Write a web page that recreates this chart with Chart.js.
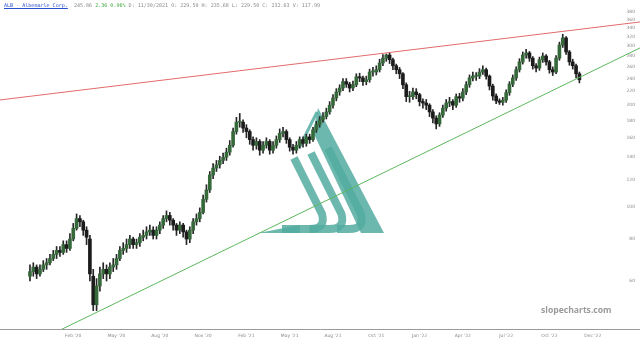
<!DOCTYPE html>
<html>
<head>
<meta charset="utf-8">
<script src="https://cdn.jsdelivr.net/npm/chart.js@4.4.0/dist/chart.umd.min.js"></script>
<style>
  html, body { margin: 0; padding: 0; background: #fff; }
  #wrap { position: relative; width: 640px; height: 343px; }
  #header { position: absolute; left: 4px; top: 2px; font: 5.05px "DejaVu Sans Mono", monospace; color: #8a8a8a; white-space: pre; }
  #header .sym { color: #2a4fd0; text-decoration: underline; }
  #header .chg { color: #3aa53a; }
  #brand { position: absolute; left: 541px; top: 304px; font: bold 8.6px "Open Sans", sans-serif; color: #9a9a9a; }
</style>
</head>
<body>
<div id="wrap">
  <canvas id="albChart" width="640" height="343"></canvas>
  <div id="header"><span class="sym">ALB - Albemarle Corp.</span>  245.86 <span class="chg">2.36 0.96%</span> D: 11/30/2021 O: 229.50 H: 235.68 L: 229.50 C: 232.63 V: 117.99</div>
  <div id="brand">slopecharts.com</div>
</div>
<script>
// weekly bars, week 0 = first bar on the chart
const tickWeeks = [13, 26, 39, 52, 65, 78, 91, 104, 117, 130, 143, 156, 169];
const tickLabels = ["Feb '20", "May '20", "Aug '20", "Nov '20", "Feb '21", "May '21", "Aug '21",
                    "Oct '21", "Jan '22", "Apr '22", "Jul '22", "Oct '22", "Dec '22"];
const priceTicks = [60, 80, 100, 120, 140, 160, 180, 200, 220, 240, 260, 280, 300, 320, 340, 360, 380];

const opens = [62,64,66,63,65,67,68,70,72,74,73,77,75,80,86,92,90,85,80,62,51,58,63,65,63,66,67,70,74,75,
  77,80,77,78,81,82,84,85,82,85,88,92,94,91,88,85,88,84,80,85,90,92,96,105,112,124,130,133,137,140,
  145,152,167,178,178,171,167,158,152,156,147,152,156,147,152,158,165,167,158,150,147,152,158,154,161,158,169,175,181,185,
  191,200,210,219,225,235,231,225,230,243,241,235,238,251,251,255,267,276,282,273,262,255,248,230,212,212,219,215,205,203,
  200,191,183,176,187,196,203,205,200,212,210,219,230,241,244,244,251,255,244,228,213,206,204,207,218,231,241,255,269,282,
  286,276,262,258,273,280,269,255,251,276,302,317,288,269,262,248];
const highs = [67,68,67,67,69,70,72,74,76,76,79,79,83,89,95,94,91,87,82,65,61,66,68,67,68,70,72,76,78,80,
  82,81,80,83,85,87,88,87,87,90,94,97,96,92,89,90,89,85,87,92,95,99,108,116,127,134,137,141,144,149,
  157,171,184,189,181,175,169,161,160,158,156,160,158,156,162,170,172,169,160,153,156,161,161,164,164,172,179,185,190,196,
  205,215,224,230,240,240,234,236,248,249,244,244,256,259,262,274,283,284,286,276,265,259,250,233,220,225,224,217,209,208,
  202,194,186,190,200,208,211,208,216,217,224,235,246,251,250,257,262,258,246,231,216,209,211,222,235,246,260,275,288,293,
  289,279,266,278,286,283,272,260,281,308,325,320,291,274,265,251];
const lows = [60,62,61,62,64,65,67,69,70,71,72,73,74,79,85,87,82,77,60,49,49,56,61,60,61,64,65,69,72,73,
  75,75,75,76,79,80,82,80,80,83,86,90,88,85,82,83,81,77,78,83,88,90,95,103,110,121,127,130,134,137,
  142,150,164,172,166,160,153,147,148,142,144,149,143,144,149,155,161,154,146,143,144,149,150,151,154,156,166,172,178,182,
  188,196,206,214,221,226,219,221,227,235,229,230,234,244,246,251,262,270,266,255,248,240,224,205,204,208,209,199,196,194,
  185,177,170,173,184,192,198,194,197,204,206,215,226,236,237,240,247,239,222,207,202,201,200,204,214,227,237,251,265,276,
  270,256,251,254,268,263,249,245,248,272,297,283,263,256,241,233];
const closes = [64,66,63,65,67,68,70,72,74,73,77,75,80,86,92,90,85,81,63,51,58,63,65,63,66,67,70,74,75,77,
  80,77,78,81,82,84,85,82,85,88,92,94,91,88,85,88,84,80,85,90,92,96,105,112,124,130,133,137,140,145,
  152,167,178,178,171,167,158,152,156,147,152,156,147,152,158,165,167,158,150,147,152,158,154,161,158,169,175,181,185,191,
  200,210,219,225,235,231,225,230,243,241,235,238,251,251,255,267,276,282,273,262,255,248,230,212,212,219,215,205,203,200,
  191,183,176,187,196,203,205,200,212,210,219,230,241,244,244,251,255,244,228,213,206,204,207,218,231,241,255,269,282,286,
  276,262,258,273,280,269,255,251,276,302,317,288,269,262,248,238];

// trend lines, endpoints read at the left and right edges of the plot
const resistanceLine = [{ x: -9, y: 207.3 }, { x: 183.2, y: 353.6 }];
const supportLine = [{ x: -9, y: 35.1 }, { x: 183.2, y: 296 }];

const watermark = {
  id: "watermark",
  beforeDatasetsDraw(chart) {
    const c = chart.ctx;
    c.save();
    c.fillStyle = "rgba(84,172,160,0.85)";
    c.strokeStyle = "rgba(84,172,160,0.85)";
    // right leg
    c.beginPath();
    c.moveTo(318, 108); c.lineTo(384, 233); c.lineTo(361, 233); c.lineTo(313, 132);
    c.closePath(); c.fill();
    // left edge
    c.lineWidth = 3;
    c.beginPath(); c.moveTo(317, 112); c.lineTo(299, 148); c.stroke();
    // three hooked stripes
    c.lineWidth = 8;
    for (let k = 0; k < 3; k++) {
      const x0 = 294 + 17 * k, y0 = 158 - 5 * k;
      const xb = x0 + 0.5 * (214 - y0);
      c.beginPath();
      c.moveTo(x0, y0);
      c.lineTo(xb, 214);
      c.quadraticCurveTo(xb + 4, 229, xb - 12, 229);
      c.lineTo(xb - 24 - 8 * (2 - k), 229);
      c.stroke();
    }
    // pointed base on the left
    c.beginPath();
    c.moveTo(258, 233); c.lineTo(300, 225); c.lineTo(300, 233);
    c.closePath(); c.fill();
    c.restore();
  }
};

const ctx = document.getElementById("albChart").getContext("2d");

new Chart(ctx, {
  type: "bar",
  data: {
    datasets: [
      {
        label: "range",
        data: closes.map((c, i) => ({ x: i, y: [lows[i], highs[i]] })),
        backgroundColor: "#262626",
        barThickness: 1,
        grouped: false,
        order: 3
      },
      {
        label: "body",
        data: closes.map((c, i) => ({ x: i, y: [opens[i], c] })),
        backgroundColor: closes.map((c, i) => (c >= opens[i] ? "#35693a" : "#1c1c1c")),
        barThickness: 3,
        minBarLength: 1,
        grouped: false,
        order: 2
      },
      {
        type: "line",
        label: "resistance",
        data: resistanceLine,
        borderColor: "#e36b6b",
        borderWidth: 1,
        pointRadius: 0,
        order: 1
      },
      {
        type: "line",
        label: "support",
        data: supportLine,
        borderColor: "#5cb85c",
        borderWidth: 1,
        pointRadius: 0,
        order: 1
      }
    ]
  },
  options: {
    responsive: false,
    animation: false,
    devicePixelRatio: 1,
    layout: { padding: 0 },
    plugins: {
      legend: { display: false },
      tooltip: { enabled: false }
    },
    scales: {
      x: {
        type: "linear",
        min: -9,
        max: 183.2,
        offset: false,
        grid: { display: false, drawTicks: false },
        border: { display: true, color: "#9a9a9a", width: 1 },
        ticks: {
          autoSkip: false,
          maxRotation: 0,
          padding: 4,
          color: "#8a8a8a",
          font: { size: 4.5, family: "DejaVu Sans" },
          callback: v => {
            const k = tickWeeks.indexOf(v);
            return k >= 0 ? tickLabels[k] : "";
          }
        },
        afterBuildTicks: s => { s.ticks = tickWeeks.map(v => ({ value: v })); },
        afterFit: s => { s.height = 14; s.paddingLeft = 0; s.paddingRight = 0; }
      },
      y: {
        type: "logarithmic",
        position: "right",
        min: 43.2,
        max: 411,
        grid: { display: false, drawTicks: false },
        border: { display: false },
        ticks: {
          mirror: true,
          padding: -5,
          color: "#8a8a8a",
          font: { size: 4.5, family: "DejaVu Sans" },
          callback: v => String(v)
        },
        afterBuildTicks: s => { s.ticks = priceTicks.map(v => ({ value: v })); },
        afterFit: s => { s.width = 0; s.paddingTop = 0; s.paddingBottom = 0; }
      }
    }
  },
  plugins: [watermark]
});
</script>
</body>
</html>
